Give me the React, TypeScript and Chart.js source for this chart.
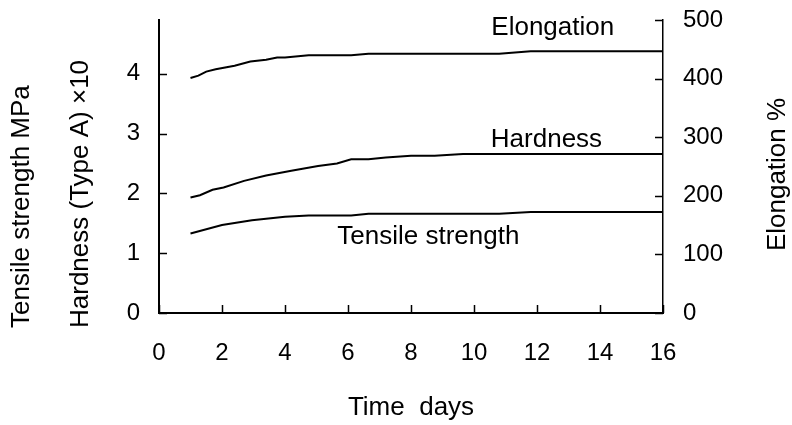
import React, { useEffect, useRef } from "react";
import { Chart, registerables } from "chart.js";

Chart.register(...registerables);

const FONT = '"Liberation Sans", Arial, Helvetica, sans-serif';

// ---- data ----
const xTicks = [0, 2, 4, 6, 8, 10, 12, 14, 16];
const leftTicks = [0, 1, 2, 3, 4];
const rightTicks = [0, 100, 200, 300, 400, 500];

const elongationDays = [1.0, 1.25, 1.5, 1.8, 2.4, 2.9, 3.4, 3.75, 4.0, 4.75, 6.1, 6.65, 8.0, 10.8, 11.8, 16];
const elongationPct = [401, 405, 412, 416, 422, 429, 432, 436, 436, 440, 440, 442.5, 442.5, 442.5, 446.5, 446.5];

const hardnessDays = [1.0, 1.3, 1.7, 2.05, 2.7, 3.4, 4.2, 5.05, 5.65, 6.1, 6.65, 7.2, 8.0, 8.75, 9.65, 16];
const hardnessVals = [1.93, 1.97, 2.06, 2.1, 2.21, 2.3, 2.38, 2.46, 2.5, 2.57, 2.57, 2.6, 2.63, 2.63, 2.66, 2.66];

const tensileDays = [1.0, 2.0, 2.95, 4.0, 4.75, 6.1, 6.65, 10.8, 11.8, 16];
const tensileVals = [1.33, 1.47, 1.55, 1.61, 1.63, 1.63, 1.66, 1.66, 1.69, 1.69];

const seriesNames = ["Tensile strength", "Hardness", "Elongation"];
const leftTitles = ["Tensile strength MPa", "Hardness (Type A) \u00d710"];
const rightTitle = "Elongation %";
const xTitle = "Time  days";

const toPoints = (xs: number[], ys: number[]) => xs.map((x, i) => ({ x, y: ys[i] }));

const tickFont = { family: FONT, size: 24 };

const inwardTicks = {
  id: "inwardTicks",
  afterDraw(chart: any) {
    const { ctx } = chart;
    const { x, y, y2 } = chart.scales;
    const L = 8;
    ctx.save();
    ctx.strokeStyle = "#000";
    ctx.lineWidth = 1.5;
    ctx.beginPath();
    x.ticks.forEach((t: any) => {
      const px = Math.round(x.getPixelForValue(t.value)) + 0.5;
      ctx.moveTo(px, x.top);
      ctx.lineTo(px, x.top - L);
    });
    y.ticks.forEach((t: any) => {
      const py = Math.round(y.getPixelForValue(t.value)) + 0.5;
      ctx.moveTo(y.right, py);
      ctx.lineTo(y.right + L, py);
    });
    y2.ticks.forEach((t: any) => {
      const py = Math.round(y2.getPixelForValue(t.value)) + 0.5;
      ctx.moveTo(y2.left, py);
      ctx.lineTo(y2.left - L, py);
    });
    ctx.stroke();
    ctx.restore();
  },
};

const textPlugin = {
  id: "texts",
  afterDraw(chart: any) {
    const { ctx, chartArea: a } = chart;
    const { x, y, y2 } = chart.scales;
    ctx.save();
    ctx.fillStyle = "#000";
    const rot = (text: string, cx: number, cy: number, align: CanvasTextAlign) => {
      ctx.save();
      ctx.translate(cx, cy);
      ctx.rotate(-Math.PI / 2);
      ctx.textAlign = align;
      ctx.textBaseline = "middle";
      ctx.fillText(text, 0, 0);
      ctx.restore();
    };
    ctx.font = `26px ${FONT}`;
    rot(leftTitles[0], 22, a.bottom + 15, "left");
    rot(leftTitles[1], 81, a.bottom + 15, "left");
    rot(rightTitle, 778, (a.top + a.bottom) / 2 + 8, "center");
    ctx.textAlign = "center";
    ctx.textBaseline = "middle";
    ctx.fillText(xTitle, (a.left + a.right) / 2, 408);

    // series labels
    ctx.font = `26px ${FONT}`;
    ctx.fillText(seriesNames[0], x.getPixelForValue(8.55), y.getPixelForValue(1.27));
    ctx.fillText(seriesNames[1], x.getPixelForValue(12.3), y.getPixelForValue(2.9));
    ctx.fillText(seriesNames[2], x.getPixelForValue(12.5), y2.getPixelForValue(486));
    ctx.restore();
  },
};

export default function App() {
  const ref = useRef<HTMLCanvasElement | null>(null);

  useEffect(() => {
    if (!ref.current) return;
    const lineStyle = {
      borderColor: "#000",
      borderWidth: 2,
      pointRadius: 0,
      tension: 0,
      fill: false,
    };
    const chart = new Chart(ref.current, {
      type: "line",
      data: {
        datasets: [
          { label: seriesNames[0], data: toPoints(tensileDays, tensileVals), yAxisID: "y", ...lineStyle },
          { label: seriesNames[1], data: toPoints(hardnessDays, hardnessVals), yAxisID: "y", ...lineStyle },
          { label: seriesNames[2], data: toPoints(elongationDays, elongationPct), yAxisID: "y2", ...lineStyle },
        ],
      },
      options: {
        animation: false,
        responsive: false,
        events: [],
        layout: { padding: { top: 20, left: 0, right: 0, bottom: 0 } },
        plugins: { legend: { display: false }, tooltip: { enabled: false } },
        scales: {
          x: {
            type: "linear",
            min: 0,
            max: 16,
            afterBuildTicks: (s: any) => {
              s.ticks = xTicks.map((v) => ({ value: v }));
            },
            afterFit: (s: any) => {
              s.height = 112;
              s.paddingLeft = 0;
              s.paddingRight = 0;
            },
            grid: { display: true, drawOnChartArea: false, drawTicks: false },
            border: { display: true, color: "#000", width: 2 },
            ticks: {
              color: "#000",
              font: tickFont,
              padding: 26,
              maxRotation: 0,
              autoSkip: false,
              callback: (v: any) => String(v),
            },
          },
          y: {
            type: "linear",
            position: "left",
            min: 0,
            max: 4.9,
            afterBuildTicks: (s: any) => {
              s.ticks = leftTicks.map((v) => ({ value: v }));
            },
            afterFit: (s: any) => {
              s.width = 159;
              s.paddingTop = 0;
              s.paddingBottom = 0;
            },
            grid: { display: true, drawOnChartArea: false, drawTicks: false },
            border: { display: true, color: "#000", width: 2 },
            ticks: { color: "#000", font: tickFont, padding: 19, callback: (v: any) => String(v) },
          },
          y2: {
            type: "linear",
            position: "right",
            min: 0,
            max: 500,
            afterBuildTicks: (s: any) => {
              s.ticks = rightTicks.map((v) => ({ value: v }));
            },
            afterFit: (s: any) => {
              s.width = 129;
              s.paddingTop = 0;
              s.paddingBottom = 0;
            },
            grid: { display: true, drawOnChartArea: false, drawTicks: false },
            border: { display: true, color: "#000", width: 1.5 },
            ticks: { color: "#000", font: tickFont, padding: 20, callback: (v: any) => String(v) },
          },
        },
      },
      plugins: [inwardTicks, textPlugin],
    });
    return () => chart.destroy();
  }, []);

  return (
    <div style={{ position: "absolute", left: 0, top: 0, width: 792, height: 425, background: "#fff" }}>
      <canvas ref={ref} width={792} height={425} style={{ display: "block", width: 792, height: 425 }} />
    </div>
  );
}
